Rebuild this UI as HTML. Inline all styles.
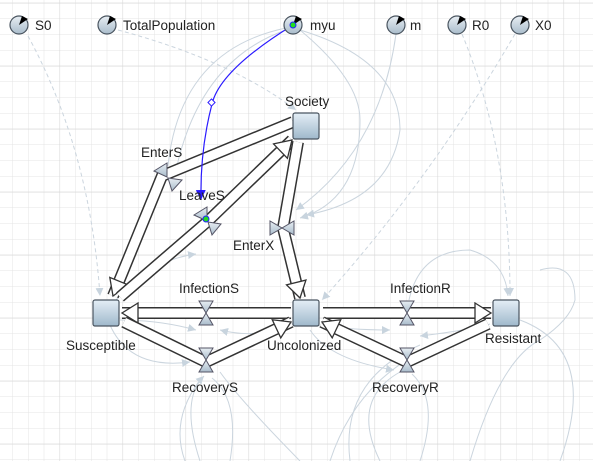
<!DOCTYPE html><html><head><style>
html,body{margin:0;padding:0;background:#fff;}
svg{display:block;font-family:"Liberation Sans",sans-serif;}
</style></head><body>
<svg width="593" height="461" viewBox="0 0 593 461" xmlns="http://www.w3.org/2000/svg">
<defs>
<pattern id="g" width="15.75" height="15.75" patternUnits="userSpaceOnUse" x="-3.5" y="2.75">
<path d="M0 0H15.75M0 0V15.75" stroke="#e4e4e4" stroke-width="1" fill="none"/>
</pattern>
<pattern id="G" width="63" height="63" patternUnits="userSpaceOnUse" x="-3.5" y="2.75">
<path d="M0 0H63M0 0V63" stroke="#d8d8d8" stroke-width="1.2" fill="none"/>
</pattern>
<marker id="ah" markerUnits="userSpaceOnUse" markerWidth="30" markerHeight="30" refX="17" refY="11" orient="auto" viewBox="0 0 30 30">
<polygon points="1,1 17,11 1,21" fill="#fff" stroke="#333" stroke-width="1.3"/>
</marker>
<marker id="la" markerUnits="userSpaceOnUse" markerWidth="12" markerHeight="12" refX="8" refY="4" orient="auto" viewBox="0 0 12 12">
<polygon points="0,0 8,4 0,8" fill="#c8d4de"/>
</marker>
<marker id="ba" markerUnits="userSpaceOnUse" markerWidth="14" markerHeight="14" refX="10" refY="5" orient="auto" viewBox="0 0 14 14">
<polygon points="0,0 10,5 0,10" fill="#2a1aff"/>
</marker>
<linearGradient id="sg" x1="0" y1="0" x2="0" y2="1"><stop offset="0" stop-color="#e4eef6"/><stop offset="1" stop-color="#9fb8cb"/></linearGradient>
<linearGradient id="vg" x1="0" y1="0" x2="0" y2="1"><stop offset="0" stop-color="#e8eef3"/><stop offset="1" stop-color="#a9bccb"/></linearGradient>
</defs>
<rect width="593" height="461" fill="url(#g)"/>
<rect width="593" height="461" fill="url(#G)"/>

<g fill="none" stroke="#cbd5de" stroke-width="1">
<path d="M28 36 Q90 150 100 296" stroke-dasharray="4,3" marker-end="url(#la)"/>
<path d="M118 30 Q230 60 296 110" stroke-dasharray="4,3" marker-end="url(#la)"/>
<path d="M286 28 Q180 50 168 166"/>
<path d="M286 30 Q200 60 176 170"/>
<path d="M300 30 Q360 80 360 120 Q360 200 300 218" marker-end="url(#la)"/>
<path d="M300 30 Q400 60 400 130 Q390 200 306 215" marker-end="url(#la)"/>
<path d="M396 34 Q380 150 296 210" marker-end="url(#la)"/>
<path d="M462 34 Q510 150 510 296" stroke-dasharray="4,3" marker-end="url(#la)"/>
<path d="M515 34 Q430 180 322 300" stroke-dasharray="4,3" marker-end="url(#la)"/>
<path d="M409 300 Q420 250 470 250 Q505 260 508 296" marker-end="url(#la)"/>
<path d="M110 325 Q130 370 190 362" marker-end="url(#la)"/>
<path d="M116 300 Q150 260 196 254" marker-end="url(#la)"/>
<path d="M296 322 Q260 340 220 330" marker-end="url(#la)"/>
<path d="M120 320 Q160 320 196 330" marker-end="url(#la)"/>
<path d="M296 322 Q340 330 390 330" marker-end="url(#la)"/>
<path d="M310 330 Q330 360 394 370" marker-end="url(#la)"/>
<path d="M490 324 Q470 330 420 336" marker-end="url(#la)"/>
<path d="M200 461 Q180 400 204 376" marker-end="url(#la)"/>
<path d="M185 461 Q170 420 200 380"/>
<path d="M230 461 Q240 400 212 378"/>
<path d="M300 461 Q240 400 220 372"/>
<path d="M330 461 Q360 370 450 340"/>
<path d="M350 461 Q340 380 420 345"/>
<path d="M380 461 Q350 400 400 372"/>
<path d="M420 461 Q440 400 412 374"/>
<path d="M470 461 Q500 360 540 340 Q570 320 575 300 Q575 260 540 270"/>
<path d="M560 461 Q600 350 520 320"/>
</g>

<g fill="none" stroke-linecap="butt" stroke-linejoin="miter">
<path d="M293 122 L162 176 L113 296" stroke="#333" stroke-width="12"/>
<path d="M293 122 L162 176 L113 296" stroke="#fff" stroke-width="9" marker-end="url(#ah)"/>
<path d="M120 297 L208 221 L292 140" stroke="#333" stroke-width="12"/>
<path d="M120 297 L208 221 L292 140" stroke="#fff" stroke-width="9" marker-end="url(#ah)"/>
<path d="M298 142 L283 228 L300 298" stroke="#333" stroke-width="12"/>
<path d="M298 142 L283 228 L300 298" stroke="#fff" stroke-width="9" marker-end="url(#ah)"/>
<path d="M291 313 L122 313" stroke="#333" stroke-width="12"/>
<path d="M291 313 L122 313" stroke="#fff" stroke-width="9" marker-end="url(#ah)"/>
<path d="M124 322 L206 362 L291 322" stroke="#333" stroke-width="12"/>
<path d="M124 322 L206 362 L291 322" stroke="#fff" stroke-width="9" marker-end="url(#ah)"/>
<path d="M323 313 L491 313" stroke="#333" stroke-width="12"/>
<path d="M323 313 L491 313" stroke="#fff" stroke-width="9" marker-end="url(#ah)"/>
<path d="M488 324 L407 362 L322 322" stroke="#333" stroke-width="12"/>
<path d="M488 324 L407 362 L322 322" stroke="#fff" stroke-width="9" marker-end="url(#ah)"/>
</g>

<g fill="url(#vg)" stroke="#556" stroke-width="1">
<polygon points="199,301 213,301 206,313"/><polygon points="199,325 213,325 206,313"/>
<polygon points="199,348 213,348 206,360"/><polygon points="199,372 213,372 206,360"/>
<polygon points="400,301 414,301 407,313"/><polygon points="400,325 414,325 407,313"/>
<polygon points="400,348 414,348 407,360"/><polygon points="400,372 414,372 407,360"/>
<polygon points="270,221 270,235 282,228"/><polygon points="294,221 294,235 282,228"/>
<polygon points="154,171 167,163 167,177"/><polygon points="168,178 182,180 172,191"/>
<polygon points="194,215 207,207 207,221"/><polygon points="208,222 221,224 212,235"/>
</g>
<circle cx="206" cy="219" r="3" fill="#22dd22" stroke="#2222ff" stroke-width="1"/>

<path d="M293 25 Q220 70 212 104 Q200 150 201 200" fill="none" stroke="#2a1aff" stroke-width="1.2" marker-end="url(#ba)"/>
<rect x="209" y="100" width="5" height="5" transform="rotate(45 211.5 102.5)" fill="#fff" stroke="#2a1aff" stroke-width="1"/>

<g fill="url(#sg)" stroke="#4a5560" stroke-width="1.2">
<rect x="293" y="113" width="26" height="26" rx="2"/>
<rect x="93" y="300" width="26" height="26" rx="2"/>
<rect x="293" y="300" width="26" height="26" rx="2"/>
<rect x="493" y="300" width="26" height="26" rx="2"/>
</g>

<g stroke="#4a5560" stroke-width="1.2">
<g transform="translate(19,25)"><circle r="9" fill="url(#vg)"/><polygon points="0,0 3,-9 9,-6" fill="#000" stroke="none"/></g>
<g transform="translate(107,25)"><circle r="9" fill="url(#vg)"/><polygon points="0,0 3,-9 9,-6" fill="#000" stroke="none"/></g>
<g transform="translate(293,25)"><circle r="9" fill="url(#vg)"/><polygon points="0,0 3,-9 9,-6" fill="#000" stroke="none"/><circle r="3" fill="#22dd22" stroke="#2222ff" stroke-width="1"/></g>
<g transform="translate(396,25)"><circle r="9" fill="url(#vg)"/><polygon points="0,0 3,-9 9,-6" fill="#000" stroke="none"/></g>
<g transform="translate(457,25)"><circle r="9" fill="url(#vg)"/><polygon points="0,0 3,-9 9,-6" fill="#000" stroke="none"/></g>
<g transform="translate(520,25)"><circle r="9" fill="url(#vg)"/><polygon points="0,0 3,-9 9,-6" fill="#000" stroke="none"/></g>
</g>

<g font-size="13.5" fill="#222">
<text x="35" y="30">S0</text>
<text x="123" y="30">TotalPopulation</text>
<text x="310" y="30">myu</text>
<text x="410" y="30">m</text>
<text x="472" y="30">R0</text>
<text x="535" y="30">X0</text>
<text x="285" y="106">Society</text>
<text x="141" y="157">EnterS</text>
<text x="179" y="200">LeaveS</text>
<text x="233" y="250">EnterX</text>
<text x="179" y="293">InfectionS</text>
<text x="390" y="293">InfectionR</text>
<text x="66" y="350">Susceptible</text>
<text x="267" y="350">Uncolonized</text>
<text x="485" y="343">Resistant</text>
<text x="172" y="392">RecoveryS</text>
<text x="372" y="392">RecoveryR</text>
</g>
</svg>
</body></html>
